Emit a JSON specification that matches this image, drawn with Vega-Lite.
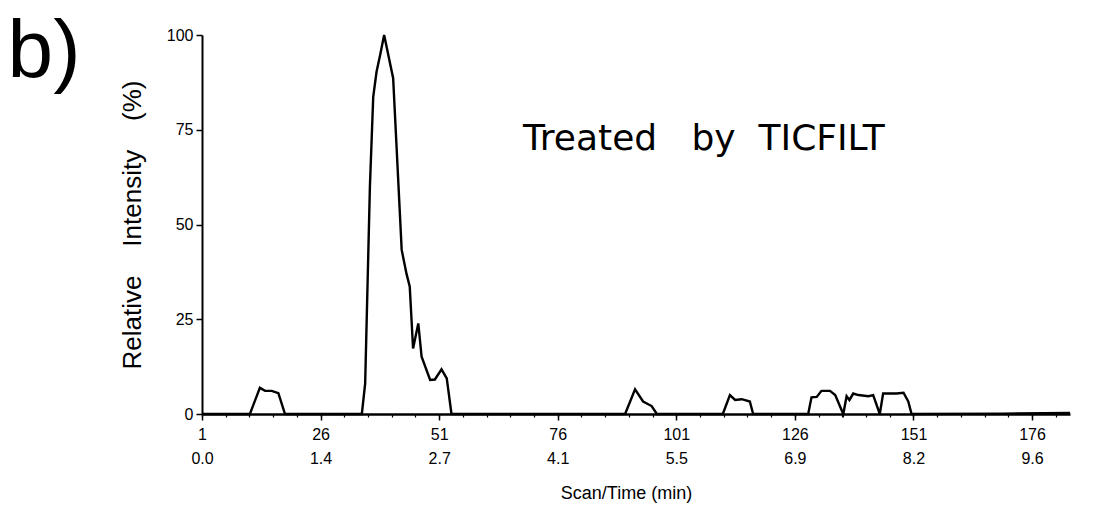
{
  "$schema": "https://vega.github.io/schema/vega-lite/v6.json",
  "width": 868,
  "height": 379,
  "autosize": {"type": "none"},
  "padding": {"left": 202, "top": 35, "right": 47, "bottom": 100},
  "background": "white",
  "config": {
    "view": {"stroke": null},
    "axis": {"grid": false, "domainColor": "black", "tickColor": "black", "labelColor": "black", "titleColor": "black", "labelFont": "Liberation Sans", "titleFont": "Liberation Sans", "titleFontWeight": "normal"}
  },
  "resolve": {"axis": {"x": "independent", "y": "independent"}},
  "layer": [
    {
      "data": {"values": [
        {"scan": 1, "intensity": 0}, {"scan": 11.1, "intensity": 0}, {"scan": 13.2, "intensity": 6.9}, {"scan": 14.3, "intensity": 6.1}, {"scan": 15.7, "intensity": 6.1}, {"scan": 17.1, "intensity": 5.5}, {"scan": 18.5, "intensity": 0},
        {"scan": 34.7, "intensity": 0}, {"scan": 35.4, "intensity": 8.1}, {"scan": 36.4, "intensity": 60}, {"scan": 37.1, "intensity": 83.7}, {"scan": 37.8, "intensity": 90.3}, {"scan": 38.6, "intensity": 95}, {"scan": 39.4, "intensity": 100}, {"scan": 41.3, "intensity": 88.6}, {"scan": 43.1, "intensity": 43.3}, {"scan": 44.1, "intensity": 37.1}, {"scan": 44.8, "intensity": 33.6}, {"scan": 45.5, "intensity": 17.3}, {"scan": 46.6, "intensity": 23.9}, {"scan": 47.3, "intensity": 15.1}, {"scan": 49.1, "intensity": 9.0}, {"scan": 50.1, "intensity": 9.1}, {"scan": 51.5, "intensity": 11.8}, {"scan": 52.6, "intensity": 9.4}, {"scan": 53.6, "intensity": 0},
        {"scan": 90.2, "intensity": 0}, {"scan": 92.3, "intensity": 6.5}, {"scan": 94.0, "intensity": 3.3}, {"scan": 95.8, "intensity": 2.1}, {"scan": 96.9, "intensity": 0},
        {"scan": 110.8, "intensity": 0}, {"scan": 112.3, "intensity": 5.0}, {"scan": 113.4, "intensity": 3.7}, {"scan": 114.8, "intensity": 3.9}, {"scan": 116.5, "intensity": 3.3}, {"scan": 117.2, "intensity": 0},
        {"scan": 128.8, "intensity": 0}, {"scan": 129.5, "intensity": 4.4}, {"scan": 130.6, "intensity": 4.5}, {"scan": 131.6, "intensity": 6.1}, {"scan": 133.4, "intensity": 6.1}, {"scan": 134.5, "intensity": 5.0}, {"scan": 136.2, "intensity": 0}, {"scan": 136.9, "intensity": 4.7}, {"scan": 137.5, "intensity": 3.7}, {"scan": 138.3, "intensity": 5.4}, {"scan": 139.4, "intensity": 5.0}, {"scan": 141.5, "intensity": 4.7}, {"scan": 142.5, "intensity": 5.0}, {"scan": 143.9, "intensity": 0}, {"scan": 144.6, "intensity": 5.4}, {"scan": 145.7, "intensity": 5.4}, {"scan": 147.4, "intensity": 5.4}, {"scan": 148.9, "intensity": 5.6}, {"scan": 149.9, "intensity": 3.3}, {"scan": 150.6, "intensity": 0},
        {"scan": 170, "intensity": 0.1}, {"scan": 184, "intensity": 0.3}
      ]},
      "mark": {"type": "line", "color": "black", "strokeWidth": 2.4},
      "encoding": {
        "x": {"field": "scan", "type": "quantitative", "scale": {"domain": [1, 184], "nice": false, "zero": false},
          "axis": {"orient": "bottom", "values": [1, 26, 51, 76, 101, 126, 151, 176], "format": "d",
            "labelExpr": "[datum.label, {'1':'0.0','26':'1.4','51':'2.7','76':'4.1','101':'5.5','126':'6.9','151':'8.2','176':'9.6'}[datum.label]]",
            "labelFontSize": 16, "labelLineHeight": 24, "labelPadding": 6, "tickSize": 6, "tickWidth": 1.5, "domainWidth": 2.5,
            "title": "Scan/Time (min)", "titleFontSize": 18, "titlePadding": 18, "titleX": 424, "labelFlush": false, "labelOverlap": false}},
        "y": {"field": "intensity", "type": "quantitative", "scale": {"domain": [0, 100], "nice": false},
          "axis": {"orient": "left", "values": [0, 25, 50, 75, 100], "labelFontSize": 16, "labelPadding": 3, "tickSize": 6, "tickWidth": 1.5, "domainWidth": 2,
            "title": "Relative\u00a0\u00a0\u00a0\u00a0Intensity\u00a0\u00a0\u00a0\u00a0(%)", "titleFontSize": 26, "titlePadding": 21}}
      }
    },
    {
      "data": {"values": [{"scan": 68.7, "intensity": 69.7, "label": "Treated\u00a0\u00a0\u00a0by\u00a0\u00a0TICFILT"}]},
      "mark": {"type": "text", "font": "DejaVu Sans", "fontSize": 36, "align": "left", "baseline": "alphabetic", "color": "black"},
      "encoding": {
        "x": {"field": "scan", "type": "quantitative", "scale": {"domain": [1, 184], "nice": false, "zero": false},
          "axis": {"orient": "bottom", "values": [1, 6, 11, 16, 21, 26, 31, 36, 41, 46, 51, 56, 61, 66, 71, 76, 81, 86, 91, 96, 101, 106, 111, 116, 121, 126, 131, 136, 141, 146, 151, 156, 161, 166, 171, 176, 181], "labels": false, "domain": false, "tickSize": 3, "tickWidth": 1.2, "title": null}},
        "y": {"field": "intensity", "type": "quantitative", "scale": {"domain": [0, 100], "nice": false}, "axis": null},
        "text": {"field": "label"}
      }
    },
    {
      "data": {"values": [{"scan": -40.0, "intensity": 89.0, "label": "b)"}]},
      "mark": {"type": "text", "font": "Liberation Sans", "fontSize": 82, "align": "left", "baseline": "alphabetic", "color": "black"},
      "encoding": {
        "x": {"field": "scan", "type": "quantitative", "scale": {"domain": [1, 184], "nice": false, "zero": false}, "axis": null},
        "y": {"field": "intensity", "type": "quantitative", "scale": {"domain": [0, 100], "nice": false}, "axis": null},
        "text": {"field": "label"}
      }
    }
  ]
}
